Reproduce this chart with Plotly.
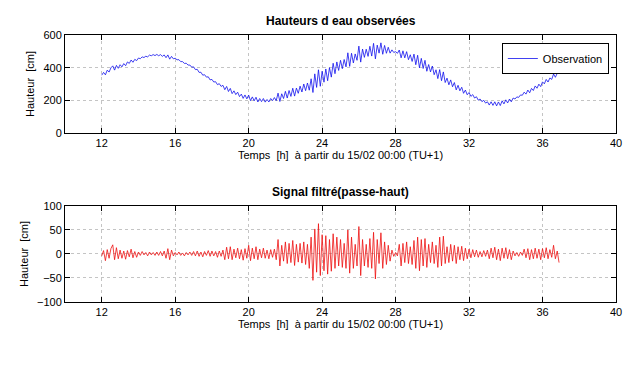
import plotly.graph_objects as go
from plotly.subplots import make_subplots

# time grid: 12.0 h to 36.9 h, step 0.1 h
t_start = 12.0
t_step = 0.1
n_pts = 250
temps = [round(t_start + i * t_step, 2) for i in range(n_pts)]

observation = [
    354, 371, 356, 385, 373, 399, 411, 385, 414, 396,
    418, 405, 425, 412, 435, 426, 447, 433, 451, 443,
    459, 455, 466, 462, 470, 466, 477, 473, 480, 474,
    481, 473, 480, 469, 478, 461, 478, 452, 469, 454,
    458, 448, 449, 437, 437, 426, 427, 416, 416, 403,
    405, 388, 390, 371, 372, 354, 357, 342, 344, 325,
    328, 312, 314, 296, 302, 285, 292, 265, 285, 254,
    273, 241, 258, 235, 250, 223, 238, 212, 233, 209,
    232, 198, 221, 197, 219, 190, 211, 192, 211, 189,
    205, 190, 211, 198, 217, 198, 244, 193, 240, 211,
    255, 214, 260, 224, 274, 226, 275, 243, 287, 251,
    300, 259, 306, 262, 332, 248, 362, 279, 387, 286,
    378, 311, 392, 320, 400, 342, 427, 363, 435, 383,
    445, 394, 450, 405, 491, 408, 488, 429, 484, 445,
    532, 434, 514, 463, 513, 469, 531, 471, 549, 454,
    538, 489, 552, 482, 536, 488, 525, 489, 509, 493,
    498, 488, 508, 460, 503, 460, 498, 449, 479, 438,
    483, 418, 476, 399, 457, 395, 445, 378, 419, 374,
    410, 357, 387, 333, 388, 320, 374, 309, 336, 295,
    325, 283, 309, 264, 292, 258, 280, 243, 263, 234,
    248, 224, 235, 214, 222, 201, 208, 192, 200, 183,
    191, 171, 191, 169, 191, 166, 190, 168, 197, 178,
    203, 184, 208, 191, 214, 208, 221, 218, 233, 231,
    250, 238, 263, 246, 273, 260, 288, 274, 299, 284,
    313, 301, 328, 312, 337, 328, 361, 341, 366, 376,
]

signal_filtre = [
    -4, 7, -14, 9, -9, 11, 19, -12, 13, -10,
    8, -9, 6, -11, 7, -6, 10, -8, 5, -7,
    4, -3, 5, -2, 3, -4, 4, -2, 3, -3,
    4, -3, 5, -4, 6, -9, 11, -12, 8, -4,
    3, -2, 4, -3, 2, -4, 3, -2, 4, -3,
    5, -4, 6, -5, 4, -6, 5, -3, 7, -5,
    6, -4, 5, -7, 6, -5, 8, -12, 14, -10,
    15, -12, 10, -8, 12, -10, 9, -13, 11, -9,
    18, -14, 12, -10, 15, -12, 10, -8, 12, -9,
    8, -10, 9, -7, 10, -12, 30, -25, 18, -15,
    25, -20, 22, -18, 28, -24, 20, -17, 22, -19,
    25, -22, 20, -30, 35, -55, 52, -38, 63, -45,
    40, -35, 38, -42, 30, -36, 42, -30, 35, -25,
    30, -28, 22, -30, 50, -40, 35, -30, 20, -25,
    57, -45, 30, -25, 20, -28, 32, -30, 45, -52,
    30, -20, 44, -30, 25, -22, 18, -15, 8, -5,
    3, -4, 20, -25, 22, -18, 25, -20, 15, -22,
    28, -30, 35, -35, 30, -25, 32, -28, 20, -18,
    25, -20, 18, -28, 35, -25, 37, -20, 15, -18,
    20, -15, 18, -20, 15, -12, 16, -14, 12, -10,
    10, -8, 9, -6, 8, -7, 5, -6, 7, -5,
    8, -10, 12, -8, 14, -12, 10, -14, 12, -9,
    13, -10, 9, -12, 6, -4, 3, -5, 4, -3,
    10, -8, 11, -12, 9, -10, 12, -9, 10, -12,
    11, -8, 13, -10, 9, -7, 18, -10, 6, -18,
]

x_ticks = [12, 16, 20, 24, 28, 32, 36, 40]
y_ticks_top = [0, 200, 400, 600]
y_ticks_bottom = [-100, -50, 0, 50, 100]

title_top = "Hauteurs d eau observées"
title_bottom = "Signal filtré(passe-haut)"
x_title = "Temps\u00a0 [h]\u00a0 à partir du 15/02 00:00 (TU+1)"
y_title = "Hauteur\u00a0 [cm]"

FONT = "Liberation Sans, Arial, sans-serif"

fig = make_subplots(rows=2, cols=1)

fig.add_trace(go.Scatter(x=temps, y=observation, mode="lines", name="Observation",
                         line=dict(color="#1010ee", width=0.8)), row=1, col=1)
fig.add_trace(go.Scatter(x=temps, y=signal_filtre, mode="lines", name="Signal filtré",
                         showlegend=False, line=dict(color="#ee1010", width=0.8)), row=2, col=1)

axis_common = dict(
    showline=True, linecolor="black", linewidth=1, mirror="ticks",
    ticks="inside", ticklen=5, tickcolor="black", tickwidth=1,
    showgrid=True, gridcolor="#c4c4c4", griddash="dot", gridwidth=1,
    zeroline=False, tickfont=dict(family=FONT, size=11, color="black"),
)

for r in (1, 2):
    fig.update_xaxes(range=[10, 40], tickvals=x_ticks, row=r, col=1,
                     title=dict(text=x_title, font=dict(family=FONT, size=11, color="black"),
                                standoff=2),
                     **axis_common)

fig.update_yaxes(range=[0, 600], tickvals=y_ticks_top, row=1, col=1,
                 title=dict(text=y_title, font=dict(family=FONT, size=11, color="black"),
                            standoff=6), **axis_common)
fig.update_yaxes(range=[-100, 100], tickvals=y_ticks_bottom, row=2, col=1,
                 title=dict(text=y_title, font=dict(family=FONT, size=11, color="black"),
                            standoff=6), **axis_common)

fig.update_layout(
    width=641, height=384,
    margin=dict(l=57, r=33, t=27, b=90, autoexpand=False),
    paper_bgcolor="white", plot_bgcolor="white",
    yaxis=dict(domain=[0.633, 1.0]),
    yaxis2=dict(domain=[0.0, 0.36]),
    showlegend=True,
    legend=dict(x=0.987, y=0.97, xanchor="right", yanchor="top",
                bgcolor="white", bordercolor="black", borderwidth=1,
                font=dict(family=FONT, size=11, color="black"),
                itemwidth=30, tracegroupgap=0, valign="middle"),
    annotations=[
        dict(text="<b>" + title_top + "</b>", xref="paper", yref="paper",
             x=0.5, y=1.0, yshift=5, yanchor="bottom", showarrow=False,
             font=dict(family=FONT, size=12, color="black")),
        dict(text="<b>" + title_bottom + "</b>", xref="paper", yref="paper",
             x=0.5, y=0.36, yshift=5, yanchor="bottom", showarrow=False,
             font=dict(family=FONT, size=12, color="black")),
    ],
)

fig.write_html("out.html")
